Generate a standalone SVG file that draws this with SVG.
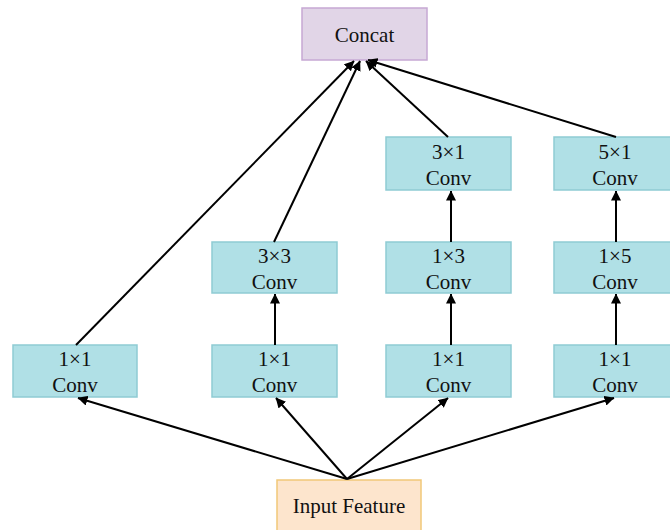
<svg xmlns="http://www.w3.org/2000/svg" width="670" height="530" viewBox="0 0 670 530">
  <defs>
    <marker id="arrow" viewBox="0 0 10 10" refX="9.5" refY="5" markerWidth="5" markerHeight="5" markerUnits="strokeWidth" orient="auto">
      <path d="M0,0 L10,5 L0,10 Z" fill="#000"/>
    </marker>
    <style>
      .conv rect { fill: #b0e0e6; stroke: #8fcbd3; stroke-width: 1.5; }
      .concat rect { fill: #e1d5e7; stroke: #c6a8d4; stroke-width: 1.5; }
      .input rect { fill: #fde5cd; stroke: #f1c878; stroke-width: 1.5; }
      text { font-family: "Liberation Serif", "Times New Roman", serif; font-size: 21px; fill: #111; text-anchor: middle; }
      .edges line { stroke: #000; stroke-width: 2; marker-end: url(#arrow); }
    </style>
  </defs>

  <rect width="670" height="530" fill="#fff"/>

  <!-- output node -->
  <g id="concat" class="concat">
    <rect x="302" y="8" width="125" height="52"/>
    <text x="364.5" y="42">Concat</text>
  </g>

  <!-- branch 1 -->
  <g id="b1-conv1x1" class="conv">
    <rect x="13" y="345" width="124" height="52"/>
    <text x="75" y="366">1×1</text>
    <text x="75" y="392">Conv</text>
  </g>

  <!-- branch 2 -->
  <g id="b2-conv1x1" class="conv">
    <rect x="212" y="345" width="125" height="52"/>
    <text x="274.5" y="366">1×1</text>
    <text x="274.5" y="392">Conv</text>
  </g>
  <g id="b2-conv3x3" class="conv">
    <rect x="212" y="242" width="125" height="51"/>
    <text x="274.5" y="263">3×3</text>
    <text x="274.5" y="289">Conv</text>
  </g>

  <!-- branch 3 -->
  <g id="b3-conv1x1" class="conv">
    <rect x="386" y="345" width="125" height="52"/>
    <text x="448.5" y="366">1×1</text>
    <text x="448.5" y="392">Conv</text>
  </g>
  <g id="b3-conv1x3" class="conv">
    <rect x="386" y="242" width="125" height="51"/>
    <text x="448.5" y="263">1×3</text>
    <text x="448.5" y="289">Conv</text>
  </g>
  <g id="b3-conv3x1" class="conv">
    <rect x="386" y="137" width="125" height="53"/>
    <text x="448.5" y="159">3×1</text>
    <text x="448.5" y="185">Conv</text>
  </g>

  <!-- branch 4 -->
  <g id="b4-conv1x1" class="conv">
    <rect x="554" y="345" width="125" height="52"/>
    <text x="615" y="366">1×1</text>
    <text x="615" y="392">Conv</text>
  </g>
  <g id="b4-conv1x5" class="conv">
    <rect x="554" y="242" width="125" height="51"/>
    <text x="615" y="263">1×5</text>
    <text x="615" y="289">Conv</text>
  </g>
  <g id="b4-conv5x1" class="conv">
    <rect x="554" y="137" width="125" height="53"/>
    <text x="615" y="159">5×1</text>
    <text x="615" y="185">Conv</text>
  </g>

  <!-- input node -->
  <g id="input" class="input">
    <rect x="277" y="480" width="144" height="52"/>
    <text x="349" y="513">Input Feature</text>
  </g>

  <!-- connectors -->
  <g id="edges" class="edges">
    <line x1="347" y1="479" x2="78" y2="398"/>
    <line x1="347" y1="479" x2="276" y2="398"/>
    <line x1="347" y1="479" x2="448" y2="398"/>
    <line x1="347" y1="479" x2="614" y2="398"/>

    <line x1="275" y1="345" x2="275" y2="294"/>
    <line x1="451" y1="345" x2="451" y2="294"/>
    <line x1="451" y1="242" x2="451" y2="191"/>
    <line x1="616" y1="345" x2="616" y2="294"/>
    <line x1="616" y1="242" x2="616" y2="191"/>

    <line x1="76" y1="345" x2="354" y2="61"/>
    <line x1="274" y1="242" x2="360" y2="61"/>
    <line x1="448" y1="137" x2="366" y2="61"/>
    <line x1="616" y1="137" x2="368" y2="60"/>
  </g>
</svg>
